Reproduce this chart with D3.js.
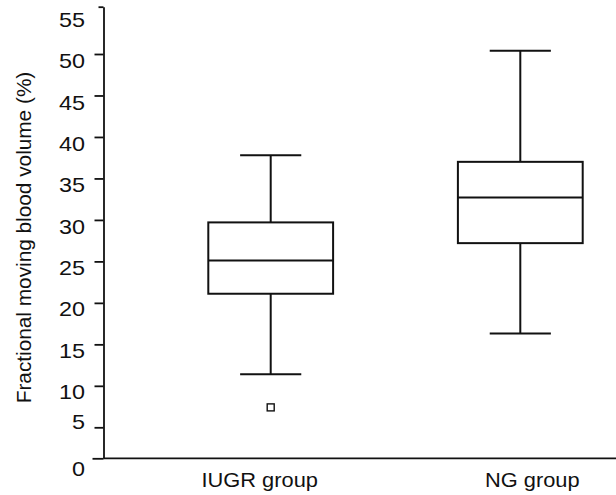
<!DOCTYPE html>
<html>
<head>
<meta charset="utf-8">
<script src="https://cdn.jsdelivr.net/npm/d3@7.9.0/dist/d3.min.js"></script>
<style>
  body { margin: 0; background: #fff; }
  text { font-family: "Liberation Sans", Arial, sans-serif; fill: #111; }
</style>
</head>
<body>
<svg id="chart" width="616" height="495"></svg>
<script>
// data
const groups = ["IUGR group", "NG group"];
const whiskerLow = [11.4, 16.3];
const q1 = [21.1, 27.2];
const medians = [25.1, 32.7];
const q3 = [29.7, 37.0];
const whiskerHigh = [37.8, 50.35];
const outliers = [{ group: "IUGR group", value: 7.4 }];
const yTicks = [0, 5, 10, 15, 20, 25, 30, 35, 40, 45, 50, 55];

const svg = d3.select('#chart');
const axisX = 103.5, axisY = 458.3;

// the printed axis is a little uneven at both ends, so piecewise scale
const y = d3.scaleLinear()
  .domain([0, 5, 50, 55])
  .range([axisY, 427.3, 54, 6.7]);

// labels don't sit exactly on their ticks in the original
const labelY = d3.scaleLinear()
  .domain([0, 5, 10, 55])
  .range([469, 421.7, 392, 20]);

const x = d3.scalePoint()
  .domain(groups)
  .range([270.7, 520.3]);

const step = x(groups[1]) - x(groups[0]);
const boxW = step * 0.5;
const capW = step * 0.245;

// y axis (ticks + line), labels drawn separately
const yAxis = svg.append('g')
  .attr('transform', `translate(${axisX},0)`)
  .call(d3.axisLeft(y).tickValues(yTicks).tickSize(9).tickSizeOuter(0).tickFormat(''));
yAxis.select('.domain').attr('stroke', '#111').attr('stroke-width', 1.8);
yAxis.selectAll('.tick line').attr('stroke', '#111').attr('stroke-width', 1.8);
yAxis.selectAll('.tick').filter(d => d === 55).select('line').attr('x2', -5);
yAxis.selectAll('.tick').filter(d => d === 0).select('line').attr('x2', -11);

// the scanned type is a bit wide, so stretch it horizontally
svg.append('g')
  .selectAll('text')
  .data(yTicks)
  .join('text')
  .attr('transform', d => `translate(85,${labelY(d)}) scale(1.17,1)`)
  .attr('dy', '0.35em')
  .attr('text-anchor', 'end')
  .attr('font-size', 20)
  .text(d => d);

// x axis line
svg.append('line')
  .attr('x1', axisX).attr('x2', 616)
  .attr('y1', axisY).attr('y2', axisY)
  .attr('stroke', '#111')
  .attr('stroke-width', 1.8);

// group labels (slightly off-centre in the original)
const labelNudge = [-11, 12];
svg.append('g')
  .selectAll('text')
  .data(groups)
  .join('text')
  .attr('transform', (d, i) => `translate(${x(d) + labelNudge[i]},487) scale(1.04,1)`)
  .attr('text-anchor', 'middle')
  .attr('font-size', 21)
  .text(d => d);

// y title
svg.append('text')
  .attr('transform', 'translate(30.5,237.5) rotate(-90) scale(1.04,1)')
  .attr('text-anchor', 'middle')
  .attr('font-size', 20)
  .attr('fill', '#222')
  .text('Fractional moving blood volume (%)');

// boxes
const boxes = svg.append('g')
  .attr('stroke', '#111')
  .attr('stroke-width', 2)
  .attr('fill', 'none');

groups.forEach((g, i) => {
  const cx = x(g);
  // whisker stems
  boxes.append('line')
    .attr('x1', cx).attr('x2', cx)
    .attr('y1', y(whiskerHigh[i])).attr('y2', y(q3[i]));
  boxes.append('line')
    .attr('x1', cx).attr('x2', cx)
    .attr('y1', y(q1[i])).attr('y2', y(whiskerLow[i]));
  // caps
  [whiskerHigh[i], whiskerLow[i]].forEach(v => {
    boxes.append('line')
      .attr('x1', cx - capW / 2).attr('x2', cx + capW / 2)
      .attr('y1', y(v)).attr('y2', y(v));
  });
  // box
  boxes.append('rect')
    .attr('x', cx - boxW / 2)
    .attr('y', y(q3[i]))
    .attr('width', boxW)
    .attr('height', y(q1[i]) - y(q3[i]))
    .attr('fill', '#fff');
  // median
  boxes.append('line')
    .attr('x1', cx - boxW / 2).attr('x2', cx + boxW / 2)
    .attr('y1', y(medians[i])).attr('y2', y(medians[i]));
});

// outliers
svg.append('g')
  .selectAll('rect')
  .data(outliers)
  .join('rect')
  .attr('x', d => x(d.group) - 3.5)
  .attr('y', d => y(d.value) - 3.5)
  .attr('width', 7)
  .attr('height', 7)
  .attr('fill', '#fff')
  .attr('stroke', '#111')
  .attr('stroke-width', 1.4);
</script>
</body>
</html>
